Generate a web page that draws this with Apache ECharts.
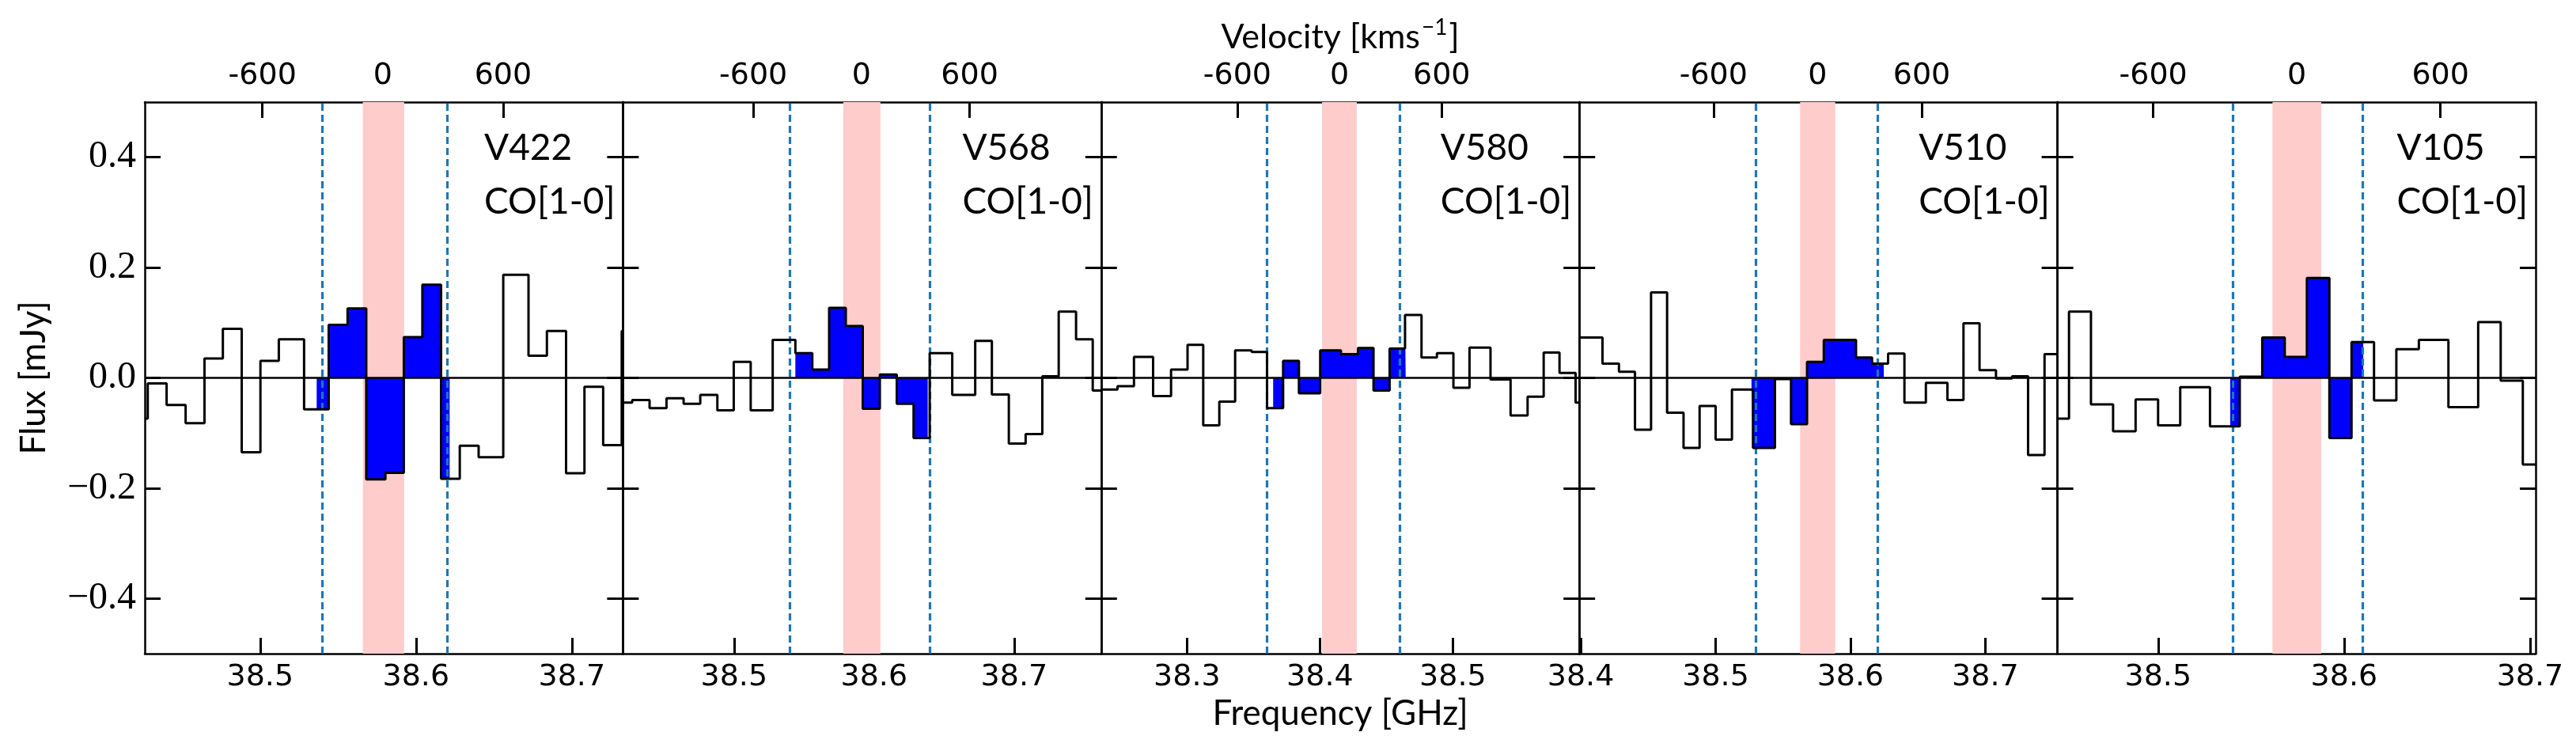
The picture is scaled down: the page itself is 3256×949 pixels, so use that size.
<!DOCTYPE html>
<html>
<head>
<meta charset="utf-8">
<title>CO[1-0] spectra</title>
<script src="https://cdn.jsdelivr.net/npm/echarts@6.0.0/dist/echarts.min.js"></script>
<style>
  html, body { margin: 0; padding: 0; background: #fff; }
  #chart { width: 3256px; height: 949px; }
</style>
</head>
<body>
<div id="chart"></div>
<script>
// one panel per source
const sources = ['V422', 'V568', 'V580', 'V510', 'V105'];
const lineName = 'CO[1-0]';

// channel edges [GHz] and flux per channel [mJy]
const edgesV422 = [38.4260, 38.4279, 38.4400, 38.4522, 38.4643, 38.4761, 38.4882, 38.5002, 38.5120, 38.5282, 38.5440, 38.5561, 38.5681, 38.5804, 38.5922, 38.6041, 38.6161, 38.6281, 38.6402, 38.6560, 38.6722, 38.6840, 38.6963, 38.7081, 38.7201, 38.7320, 38.7328];
const fluxV422 = [-0.074, -0.010, -0.049, -0.082, 0.035, 0.089, -0.135, 0.031, 0.070, -0.057, 0.096, 0.126, -0.184, -0.172, 0.074, 0.169, -0.183, -0.123, -0.144, 0.187, 0.040, 0.085, -0.173, -0.016, -0.122, 0.085];

const edgesV568 = [38.4207, 38.4273, 38.4397, 38.4518, 38.4640, 38.4759, 38.4881, 38.4998, 38.5119, 38.5276, 38.5438, 38.5559, 38.5679, 38.5798, 38.5919, 38.6041, 38.6162, 38.6282, 38.6397, 38.6558, 38.6722, 38.6841, 38.6962, 38.7082, 38.7201, 38.7318, 38.7442, 38.7561, 38.7621];
const fluxV568 = [-0.045, -0.040, -0.055, -0.037, -0.047, -0.031, -0.059, 0.029, -0.059, 0.069, 0.045, 0.015, 0.127, 0.094, -0.056, 0.006, -0.047, -0.109, 0.045, -0.031, 0.067, -0.030, -0.119, -0.102, 0.003, 0.120, 0.070, -0.023];

const edgesV580 = [38.2354, 38.2477, 38.2601, 38.2745, 38.2880, 38.3004, 38.3122, 38.3243, 38.3362, 38.3486, 38.3602, 38.3723, 38.3842, 38.4002, 38.4158, 38.4286, 38.4403, 38.4524, 38.4640, 38.4764, 38.4880, 38.5004, 38.5125, 38.5283, 38.5434, 38.5562, 38.5683, 38.5802, 38.5923, 38.5951];
const fluxV580 = [-0.021, -0.015, 0.038, -0.033, 0.015, 0.060, -0.086, -0.043, 0.050, 0.047, -0.055, 0.031, -0.028, 0.050, 0.043, 0.054, -0.023, 0.053, 0.114, 0.037, 0.045, -0.018, 0.055, -0.003, -0.068, -0.034, 0.046, 0.009, -0.045];

const edgesV510 = [38.3989, 38.4161, 38.4283, 38.4402, 38.4521, 38.4640, 38.4762, 38.4881, 38.5000, 38.5121, 38.5277, 38.5440, 38.5559, 38.5678, 38.5802, 38.5921, 38.6041, 38.6160, 38.6279, 38.6400, 38.6559, 38.6719, 38.6838, 38.6957, 38.7079, 38.7198, 38.7317, 38.7439, 38.7535];
const fluxV510 = [0.073, 0.026, 0.011, -0.094, 0.155, -0.063, -0.127, -0.051, -0.112, -0.021, -0.127, -0.002, -0.084, 0.029, 0.069, 0.069, 0.037, 0.026, 0.044, -0.045, -0.009, -0.040, 0.099, 0.014, -0.001, 0.003, -0.140, 0.043];

const edgesV105 = [38.4459, 38.4521, 38.4639, 38.4758, 38.4879, 38.5000, 38.5119, 38.5279, 38.5439, 38.5560, 38.5681, 38.5800, 38.5921, 38.6040, 38.6161, 38.6281, 38.6402, 38.6561, 38.6721, 38.6842, 38.6961, 38.7030];
const fluxV105 = [-0.074, 0.120, -0.048, -0.097, -0.039, -0.086, -0.017, -0.088, 0.002, 0.073, 0.038, 0.181, -0.109, 0.065, -0.041, 0.052, 0.069, -0.053, 0.101, -0.005, -0.157];

// frequency of v = 0 for each source [GHz]
const zeroFreq = [38.5787, 38.5910, 38.4147, 38.5756, 38.5746];
// shaded band around the line and the dashed integration window [GHz]
const bandLo = [38.5659, 38.5780, 38.4016, 38.5626, 38.5615];
const bandHi = [38.5924, 38.6045, 38.4277, 38.5887, 38.5877];
const windowLo = [38.5363, 38.5438, 38.3648, 38.5266, 38.5388];
const windowHi = [38.6216, 38.6383, 38.4645, 38.6247, 38.6103];

// ticks
const freqTicks = [
  [38.5, 38.6, 38.7],
  [38.5, 38.6, 38.7],
  [38.3, 38.4, 38.5],
  [38.4, 38.5, 38.6, 38.7],
  [38.5, 38.6, 38.7]
];
const velTicks = [-600, 0, 600];
const fluxTicks = [-0.4, -0.2, 0, 0.2, 0.4];

const edges = [edgesV422, edgesV568, edgesV580, edgesV510, edgesV105];
const fluxes = [fluxV422, fluxV568, fluxV580, fluxV510, fluxV105];

const C_KMS = 299792.458;
const LEFT = 183, W = 604.4, TOP = 129, H = 697;

// points for a step line (step: 'end') from edges + values
function stepPoints(e, v) {
  const pts = v.map((y, i) => [e[i], y]);
  pts.push([e[e.length - 1], v[v.length - 1]]);
  return pts;
}
// same, clipped to [lo, hi]
function clippedStep(e, v, lo, hi) {
  const pts = [];
  let last = null;
  for (let i = 0; i < v.length; i++) {
    const a = Math.max(e[i], lo), b = Math.min(e[i + 1], hi);
    if (b <= a) continue;
    pts.push([a, v[i]]);
    last = [b, v[i]];
  }
  if (last) pts.push(last);
  return pts;
}

const black = '#000';
const tickStyle = { inside: true, length: 20, lineStyle: { color: black, width: 3 } };
const frame = { show: true, onZero: false, lineStyle: { color: black, width: 2.5 } };

const grid = [], xAxis = [], yAxis = [], series = [], title = [];

sources.forEach((name, i) => {
  const e = edges[i], v = fluxes[i];
  const fmin = e[0], fmax = e[e.length - 1];
  const f0 = zeroFreq[i];

  grid.push({ left: LEFT + i * W, top: TOP, width: W, height: H });

  // frequency axis (bottom)
  xAxis.push({
    type: 'value', gridIndex: i, position: 'bottom', min: fmin, max: fmax,
    axisLine: frame,
    axisTick: Object.assign({ customValues: freqTicks[i] }, tickStyle),
    axisLabel: {
      customValues: freqTicks[i], formatter: val => val.toFixed(1),
      fontFamily: 'DejaVu Sans', fontSize: 38, color: black, margin: 11
    },
    splitLine: { show: false },
    name: i === 2 ? 'Frequency [GHz]' : '',
    nameLocation: 'middle', nameGap: 52,
    nameTextStyle: { fontFamily: 'Lato', fontSize: 44, color: black }
  });
  // velocity axis (top)
  xAxis.push({
    type: 'value', gridIndex: i, position: 'top',
    min: (fmin - f0) / f0 * C_KMS, max: (fmax - f0) / f0 * C_KMS,
    axisLine: frame,
    axisTick: Object.assign({ customValues: velTicks }, tickStyle),
    axisLabel: {
      customValues: velTicks, formatter: val => String(val),
      fontFamily: 'DejaVu Sans', fontSize: 38, color: black, margin: 14
    },
    splitLine: { show: false },
    name: i === 2 ? '{t|Velocity [kms}{s|−1}{t|]}' : '',
    nameLocation: 'middle', nameGap: 60,
    nameTextStyle: {
      rich: {
        t: { fontFamily: 'Lato', fontSize: 43, color: black, verticalAlign: 'bottom' },
        s: { fontFamily: 'Lato', fontSize: 28, color: black, verticalAlign: 'bottom', padding: [0, 2, 20, 2] }
      }
    }
  });
  // flux axis (left) and mirrored ticks (right)
  yAxis.push({
    type: 'value', gridIndex: i, position: 'left', min: -0.5, max: 0.5,
    axisLine: frame,
    axisTick: Object.assign({ customValues: fluxTicks }, tickStyle),
    axisLabel: {
      show: i === 0, customValues: fluxTicks,
      formatter: val => (val < 0 ? '−' : '') + Math.abs(val).toFixed(1),
      fontFamily: 'Liberation Serif', fontSize: 48, color: black, margin: 11
    },
    splitLine: { show: false },
    name: i === 0 ? 'Flux [mJy]' : '',
    nameLocation: 'middle', nameRotate: 90, nameGap: 118,
    nameTextStyle: { fontFamily: 'Lato', fontSize: 44, color: black }
  });
  yAxis.push({
    type: 'value', gridIndex: i, position: 'right', min: -0.5, max: 0.5,
    axisLine: frame,
    axisTick: Object.assign({ customValues: fluxTicks }, tickStyle),
    axisLabel: { show: false },
    splitLine: { show: false }
  });

  const xi = 2 * i, yi = 2 * i;

  // shaded band
  series.push({
    type: 'line', xAxisIndex: xi, yAxisIndex: yi, z: 1, silent: true,
    data: [[bandLo[i], 0], [bandHi[i], 0]], symbol: 'none',
    lineStyle: { opacity: 0 },
    markArea: {
      silent: true, itemStyle: { color: '#ffcccc' }, label: { show: false },
      data: [[{ xAxis: bandLo[i] }, { xAxis: bandHi[i] }]]
    }
  });
  // filled part of the spectrum inside the window
  series.push({
    type: 'line', xAxisIndex: xi, yAxisIndex: yi, z: 2, silent: true,
    step: 'end', symbol: 'none',
    data: clippedStep(e, v, windowLo[i], windowHi[i]),
    lineStyle: { width: 0, opacity: 0 },
    areaStyle: { color: '#0000ff', opacity: 1 }
  });
  // dashed window limits
  series.push({
    type: 'line', xAxisIndex: xi, yAxisIndex: yi, z: 3, silent: true,
    data: [[windowLo[i], 0], [windowHi[i], 0]], symbol: 'none',
    lineStyle: { opacity: 0 },
    markLine: {
      silent: true, symbol: ['none', 'none'], label: { show: false },
      lineStyle: { color: '#1f77b4', width: 3.2, type: [9, 5] },
      data: [{ xAxis: windowLo[i] }, { xAxis: windowHi[i] }]
    }
  });
  // zero level
  series.push({
    type: 'line', xAxisIndex: xi, yAxisIndex: yi, z: 4, silent: true,
    data: [[fmin, 0], [fmax, 0]], symbol: 'none',
    lineStyle: { color: black, width: 2.5 }
  });
  // spectrum
  series.push({
    type: 'line', xAxisIndex: xi, yAxisIndex: yi, z: 5, silent: true,
    step: 'end', symbol: 'none',
    data: stepPoints(e, v),
    lineStyle: { color: black, width: 3 }
  });

  title.push({
    text: name + '\n' + lineName,
    left: LEFT + i * W + 424, top: 148,
    textStyle: { fontFamily: 'Lato', fontSize: 46, fontWeight: 'normal', color: black, lineHeight: 68 }
  });
});

const chart = echarts.init(document.getElementById('chart'));
chart.setOption({
  animation: false,
  backgroundColor: '#fff',
  title, grid, xAxis, yAxis, series
});
</script>
</body>
</html>
